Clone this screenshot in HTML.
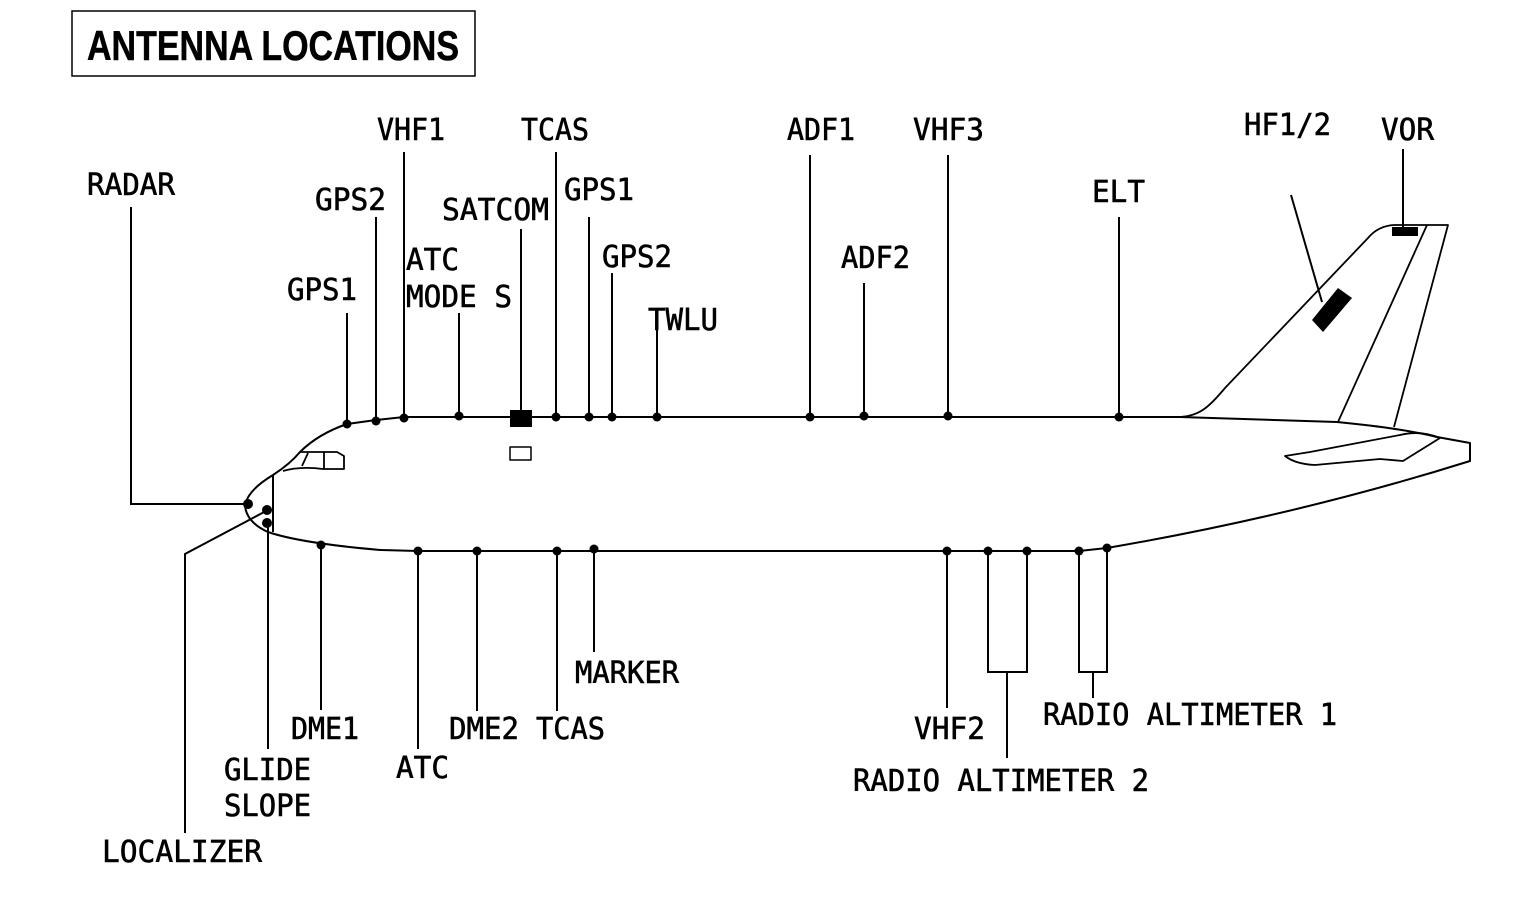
<!DOCTYPE html>
<html>
<head>
<meta charset="utf-8">
<style>
  html, body { margin:0; padding:0; background:#fff; }
  svg { display:block; }
  .lbl { font-family: "DejaVu Sans Mono", "Liberation Mono", monospace; font-size:30px; fill:#000; stroke:#000; stroke-width:0.6px; }
  .ttl { font-family: "Liberation Sans", "DejaVu Sans", sans-serif; font-weight:bold; font-size:42px; fill:#000; stroke:#000; stroke-width:0.5px; }
</style>
</head>
<body>
<svg width="1513" height="905" viewBox="0 0 1513 905" xmlns="http://www.w3.org/2000/svg">
  <rect x="0" y="0" width="1513" height="905" fill="#fff"/>

  <!-- Title -->
  <rect x="72" y="11" width="403" height="65" fill="none" stroke="#000" stroke-width="1.5"/>
  <text class="ttl" x="87" y="60" textLength="372" lengthAdjust="spacingAndGlyphs">ANTENNA LOCATIONS</text>

  <!-- Fuselage outline -->
  <g fill="none" stroke="#000" stroke-width="2" stroke-linejoin="round">
    <path d="M 404 417 L 376 420 L 347 424 Q 318 434 300 452 Q 290 464 273 475 Q 248 490 245 505 Q 246 522 268 532 Q 300 543 380 550 L 418 551 L 1079 551 L 1107 548 C 1200 532 1330 505 1470 461 L 1470 443 L 1437 437 Q 1400 428 1337 422 L 1180 417 L 404 417"/>
    <!-- radome line -->
    <line x1="273" y1="475" x2="273" y2="532"/>
    <!-- cockpit windows -->
    <path d="M 300 452 L 337 452 L 344 456 L 344 469 L 323 469 Q 300 466 283 471" stroke-width="1.8"/>
    <line x1="308" y1="453" x2="302" y2="466" stroke-width="1.8"/>
    <line x1="324" y1="452" x2="324" y2="469" stroke-width="1.8"/>
    <!-- vertical fin -->
    <path d="M 1180 417 C 1200 416 1210 406 1225 388 L 1368 238 Q 1378 226 1394 225 L 1448 225 L 1394 427" stroke-width="1.8"/>
    <line x1="1427" y1="225" x2="1338" y2="422" stroke-width="1.8"/>
    <!-- horizontal stabilizer -->
    <path d="M 1285 456 L 1310 452 L 1400 435 Q 1420 430 1440 438 L 1403 461 L 1380 459 L 1315 465 Q 1295 464 1285 456 Z" stroke-width="1.8"/>
    <!-- satcom lower small rect -->
    <rect x="510" y="447" width="21" height="13" stroke-width="1.5"/>
  </g>

  <!-- filled antenna rects -->
  <rect x="510" y="410" width="22" height="17" fill="#000"/>
  <rect x="1392" y="227" width="26" height="9" fill="#000"/>
  <polygon points="1312,320 1338,288 1352,298 1323,332" fill="#000"/>

  <!-- leader lines -->
  <g stroke="#000" stroke-width="2" fill="none">
    <!-- top -->
    <polyline points="131,207 131,504 248,504"/>
    <line x1="347" y1="313" x2="347" y2="424"/>
    <line x1="376" y1="217" x2="376" y2="421"/>
    <line x1="404" y1="152" x2="404" y2="418"/>
    <line x1="459" y1="313" x2="459" y2="416"/>
    <line x1="521" y1="229" x2="521" y2="412"/>
    <line x1="556" y1="152" x2="556" y2="417"/>
    <line x1="589" y1="217" x2="589" y2="417"/>
    <line x1="612" y1="273" x2="612" y2="417"/>
    <line x1="657" y1="327" x2="657" y2="417"/>
    <line x1="810" y1="155" x2="810" y2="417"/>
    <line x1="864" y1="283" x2="864" y2="416"/>
    <line x1="948" y1="155" x2="948" y2="416"/>
    <line x1="1119" y1="217" x2="1119" y2="417"/>
    <line x1="1291" y1="195" x2="1322" y2="302"/>
    <line x1="1403" y1="149" x2="1403" y2="227"/>
    <!-- bottom -->
    <polyline points="185,833 185,554 266,511"/>
    <line x1="268" y1="523" x2="268" y2="749"/>
    <line x1="321" y1="545" x2="321" y2="710"/>
    <line x1="418" y1="551" x2="418" y2="749"/>
    <line x1="477" y1="551" x2="477" y2="711"/>
    <line x1="557" y1="551" x2="557" y2="711"/>
    <line x1="594" y1="549" x2="594" y2="652"/>
    <line x1="947" y1="551" x2="947" y2="708"/>
    <polyline points="988,551 988,672 1027,672 1027,551"/>
    <line x1="1007" y1="672" x2="1007" y2="758"/>
    <polyline points="1079,551 1079,672 1107,672 1107,548"/>
    <line x1="1093" y1="672" x2="1093" y2="698"/>
  </g>

  <!-- dots -->
  <g fill="#000">
    <circle cx="248" cy="504" r="5"/>
    <circle cx="267" cy="510" r="5"/>
    <circle cx="267" cy="523" r="5"/>
    <circle cx="347" cy="424" r="4.5"/>
    <circle cx="376" cy="421" r="4.5"/>
    <circle cx="404" cy="418" r="4.5"/>
    <circle cx="459" cy="416" r="4.5"/>
    <circle cx="556" cy="417" r="4.5"/>
    <circle cx="589" cy="417" r="4.5"/>
    <circle cx="612" cy="417" r="4.5"/>
    <circle cx="657" cy="417" r="4.5"/>
    <circle cx="810" cy="417" r="4.5"/>
    <circle cx="864" cy="416" r="4.5"/>
    <circle cx="948" cy="416" r="4.5"/>
    <circle cx="1119" cy="417" r="4.5"/>
    <circle cx="321" cy="545" r="4.5"/>
    <circle cx="418" cy="551" r="4.5"/>
    <circle cx="477" cy="551" r="4.5"/>
    <circle cx="557" cy="551" r="4.5"/>
    <circle cx="594" cy="549" r="4.5"/>
    <circle cx="947" cy="551" r="4.5"/>
    <circle cx="988" cy="551" r="4.5"/>
    <circle cx="1027" cy="551" r="4.5"/>
    <circle cx="1079" cy="551" r="4.5"/>
    <circle cx="1107" cy="548" r="4.5"/>
  </g>

  <!-- labels -->
  <g class="lbl">
    <text x="87" y="195" textLength="88" lengthAdjust="spacingAndGlyphs">RADAR</text>
    <text x="315" y="210" textLength="71" lengthAdjust="spacingAndGlyphs">GPS2</text>
    <text x="377" y="140" textLength="68" lengthAdjust="spacingAndGlyphs">VHF1</text>
    <text x="442" y="220" textLength="107" lengthAdjust="spacingAndGlyphs">SATCOM</text>
    <text x="521" y="140" textLength="68" lengthAdjust="spacingAndGlyphs">TCAS</text>
    <text x="564" y="200" textLength="70" lengthAdjust="spacingAndGlyphs">GPS1</text>
    <text x="406" y="270" textLength="53" lengthAdjust="spacingAndGlyphs">ATC</text>
    <text x="406" y="307" textLength="106" lengthAdjust="spacingAndGlyphs">MODE S</text>
    <text x="287" y="300" textLength="70" lengthAdjust="spacingAndGlyphs">GPS1</text>
    <text x="602" y="267" textLength="70" lengthAdjust="spacingAndGlyphs">GPS2</text>
    <text x="648" y="330" textLength="70" lengthAdjust="spacingAndGlyphs">TWLU</text>
    <text x="787" y="140" textLength="68" lengthAdjust="spacingAndGlyphs">ADF1</text>
    <text x="841" y="268" textLength="69" lengthAdjust="spacingAndGlyphs">ADF2</text>
    <text x="913" y="140" textLength="71" lengthAdjust="spacingAndGlyphs">VHF3</text>
    <text x="1092" y="202" textLength="53" lengthAdjust="spacingAndGlyphs">ELT</text>
    <text x="1244" y="135" textLength="87" lengthAdjust="spacingAndGlyphs">HF1/2</text>
    <text x="1381" y="140" textLength="53" lengthAdjust="spacingAndGlyphs">VOR</text>

    <text x="291" y="739" textLength="68" lengthAdjust="spacingAndGlyphs">DME1</text>
    <text x="224" y="780" textLength="87" lengthAdjust="spacingAndGlyphs">GLIDE</text>
    <text x="224" y="816" textLength="87" lengthAdjust="spacingAndGlyphs">SLOPE</text>
    <text x="102" y="862" textLength="160" lengthAdjust="spacingAndGlyphs">LOCALIZER</text>
    <text x="396" y="778" textLength="53" lengthAdjust="spacingAndGlyphs">ATC</text>
    <text x="449" y="739" textLength="70" lengthAdjust="spacingAndGlyphs">DME2</text>
    <text x="536" y="739" textLength="69" lengthAdjust="spacingAndGlyphs">TCAS</text>
    <text x="575" y="683" textLength="104" lengthAdjust="spacingAndGlyphs">MARKER</text>
    <text x="914" y="739" textLength="71" lengthAdjust="spacingAndGlyphs">VHF2</text>
    <text x="853" y="791" textLength="296" lengthAdjust="spacingAndGlyphs">RADIO ALTIMETER 2</text>
    <text x="1043" y="725" textLength="294" lengthAdjust="spacingAndGlyphs">RADIO ALTIMETER 1</text>
  </g>
</svg>
</body>
</html>
